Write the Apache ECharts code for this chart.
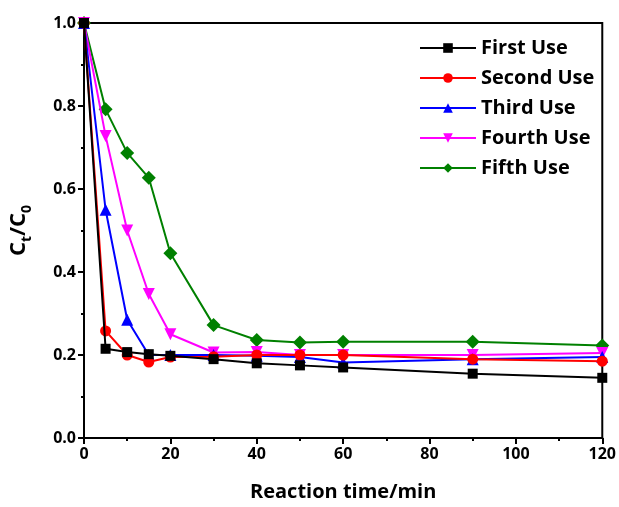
<!DOCTYPE html>
<html>
<head>
<meta charset="utf-8">
<script src="https://cdn.jsdelivr.net/npm/echarts@6/dist/echarts.min.js"></script>
<style>html,body{margin:0;padding:0;background:#fff}#c{width:619px;height:507px}</style>
</head>
<body>
<div id="c"></div>
<script>
const times = [0, 5, 10, 15, 20, 30, 40, 50, 60, 90, 120];
const seriesNames = ['First Use', 'Second Use', 'Third Use', 'Fourth Use', 'Fifth Use'];
const firstUse  = [1.0, 0.215, 0.207, 0.202, 0.198, 0.190, 0.180, 0.175, 0.170, 0.155, 0.145];
const secondUse = [1.0, 0.258, 0.200, 0.183, 0.195, 0.196, 0.200, 0.200, 0.200, 0.190, 0.185];
const thirdUse  = [1.0, 0.550, 0.285, 0.200, 0.200, 0.200, 0.198, 0.195, 0.182, 0.190, 0.195];
const fourthUse = [1.0, 0.728, 0.500, 0.347, 0.250, 0.206, 0.207, 0.200, 0.200, 0.200, 0.205];
const fifthUse  = [1.0, 0.792, 0.687, 0.627, 0.445, 0.272, 0.236, 0.230, 0.232, 0.232, 0.223];
const xTicks = [0, 20, 40, 60, 80, 100, 120];
const yTicks = [0.0, 0.2, 0.4, 0.6, 0.8, 1.0];

const values = [firstUse, secondUse, thirdUse, fourthUse, fifthUse];
const colors = ['#000000', '#ff0000', '#0000ff', '#ff00ff', '#008000'];
const symbols = ['rect', 'circle', 'triangle', 'path://M0,0 L20,0 L10,17 Z', 'diamond'];
const symbolSizes = [10, 11, 12, 12, 14];

const FONT = '"Open Sans", "Noto Sans", sans-serif';
const chart = echarts.init(document.getElementById('c'), null, {renderer: 'canvas'});

const series = seriesNames.map((name, i) => ({
  name: name,
  type: 'line',
  data: times.map((t, j) => [t, values[i][j]]),
  symbol: symbols[i],
  symbolSize: symbolSizes[i],
  showAllSymbol: true,
  lineStyle: {color: colors[i], width: 2},
  itemStyle: {color: colors[i]},
  z: 2 + (4 - i)
}));

chart.setOption({
  animation: false,
  backgroundColor: '#ffffff',
  grid: {left: 82, right: 16, top: 23, bottom: 68, show: true, borderColor: '#000', borderWidth: 2, backgroundColor: 'transparent'},
  legend: {
    orient: 'vertical',
    left: 414,
    top: 33,
    itemWidth: 56,
    itemHeight: 12,
    itemGap: 10,
    data: seriesNames,
    textStyle: {fontFamily: FONT, fontWeight: 'bold', fontSize: 20, color: '#000', padding: [0, 0, 0, 0]}
  },
  xAxis: {
    type: 'value',
    min: 0, max: 120, interval: 20,
    name: 'Reaction time/min',
    nameLocation: 'middle',
    nameGap: 44,
    nameTextStyle: {fontFamily: FONT, fontWeight: 'bold', fontSize: 20, color: '#000'},
    axisLine: {show: true, lineStyle: {color: '#000', width: 2}},
    axisTick: {show: true, inside: false, length: 6, lineStyle: {color: '#000', width: 2}},
    minorTick: {show: true, splitNumber: 2, length: 3, lineStyle: {color: '#000', width: 2}},
    axisLabel: {fontFamily: FONT, fontWeight: 'bold', fontSize: 16, color: '#000', margin: 8,
      formatter: v => xTicks.includes(v) ? String(v) : ''},
    splitLine: {show: false}
  },
  yAxis: {
    type: 'value',
    min: 0, max: 1.0, interval: 0.2,
    name: '{m|C}{s|t}{m|/C}{s|0}',
    nameLocation: 'middle',
    nameGap: 50,
    nameRotate: 90,
    nameTextStyle: {
      rich: {
        m: {fontFamily: FONT, fontWeight: 'bold', fontSize: 22, color: '#000', lineHeight: 26, verticalAlign: 'top'},
        s: {fontFamily: FONT, fontWeight: 'bold', fontSize: 14, color: '#000', lineHeight: 26, verticalAlign: 'top', padding: [12, 0, 0, 0]}
      }
    },
    axisLine: {show: true, lineStyle: {color: '#000', width: 2}},
    axisTick: {show: true, inside: false, length: 6, lineStyle: {color: '#000', width: 2}},
    minorTick: {show: true, splitNumber: 2, length: 3, lineStyle: {color: '#000', width: 2}},
    axisLabel: {fontFamily: FONT, fontWeight: 'bold', fontSize: 16, color: '#000', margin: 8,
      formatter: v => { const t = yTicks.find(y => Math.abs(y - v) < 1e-9); return t === undefined ? '' : t.toFixed(1); }},
    splitLine: {show: false}
  },
  series: series
});
</script>
</body>
</html>
